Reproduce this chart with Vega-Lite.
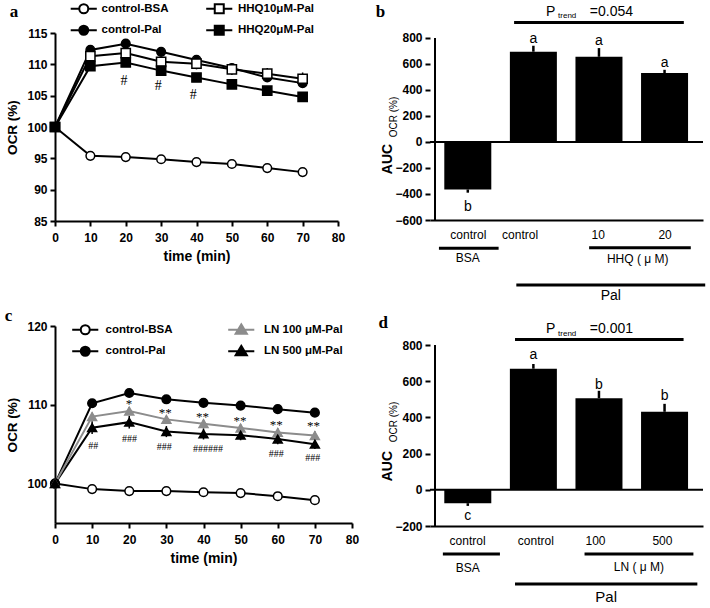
{
  "$schema": "https://vega.github.io/schema/vega-lite/v6.json",
  "background": "white",
  "autosize": {"type": "none"},
  "padding": {"left": 55, "top": 33, "right": 655, "bottom": 575},
  "bounds": "flush",
  "spacing": 293,
  "resolve": {"scale": {"color": "independent", "shape": "independent", "fill": "independent", "stroke": "independent"}},
  "datasets": {
    "a_line": [
      {"s": "control-BSA", "t": 0, "v": 100}, {"s": "control-BSA", "t": 10, "v": 95.4}, {"s": "control-BSA", "t": 20, "v": 95.2}, {"s": "control-BSA", "t": 30, "v": 94.85}, {"s": "control-BSA", "t": 40, "v": 94.4}, {"s": "control-BSA", "t": 50, "v": 94.1}, {"s": "control-BSA", "t": 60, "v": 93.45}, {"s": "control-BSA", "t": 70, "v": 92.8},
      {"s": "control-Pal", "t": 0, "v": 100}, {"s": "control-Pal", "t": 10, "v": 112.3}, {"s": "control-Pal", "t": 20, "v": 113.3}, {"s": "control-Pal", "t": 30, "v": 112.0}, {"s": "control-Pal", "t": 40, "v": 110.7}, {"s": "control-Pal", "t": 50, "v": 109.4}, {"s": "control-Pal", "t": 60, "v": 107.9}, {"s": "control-Pal", "t": 70, "v": 107.0},
      {"s": "HHQ10μM-Pal", "t": 0, "v": 100}, {"s": "HHQ10μM-Pal", "t": 10, "v": 111.3}, {"s": "HHQ10μM-Pal", "t": 20, "v": 111.8}, {"s": "HHQ10μM-Pal", "t": 30, "v": 110.4}, {"s": "HHQ10μM-Pal", "t": 40, "v": 110.1}, {"s": "HHQ10μM-Pal", "t": 50, "v": 109.2}, {"s": "HHQ10μM-Pal", "t": 60, "v": 108.5}, {"s": "HHQ10μM-Pal", "t": 70, "v": 107.7},
      {"s": "HHQ20μM-Pal", "t": 0, "v": 100}, {"s": "HHQ20μM-Pal", "t": 10, "v": 109.7}, {"s": "HHQ20μM-Pal", "t": 20, "v": 110.3}, {"s": "HHQ20μM-Pal", "t": 30, "v": 109.0}, {"s": "HHQ20μM-Pal", "t": 40, "v": 107.9}, {"s": "HHQ20μM-Pal", "t": 50, "v": 106.8}, {"s": "HHQ20μM-Pal", "t": 60, "v": 105.8}, {"s": "HHQ20μM-Pal", "t": 70, "v": 104.8}
    ],
    "a_err": [
      {"t": 40, "lo": 109.2, "hi": 110.9}, {"t": 50, "lo": 108.3, "hi": 110.1}, {"t": 60, "lo": 107.6, "hi": 109.4}, {"t": 70, "lo": 106.8, "hi": 108.7},
      {"t": 40, "lo": 110.0, "hi": 111.3}, {"t": 60, "lo": 107.2, "hi": 108.6}, {"t": 70, "lo": 106.3, "hi": 107.8}
    ],
    "a_ann": [
      {"t": 19.5, "v": 107.3, "txt": "#"}, {"t": 29.2, "v": 106.6, "txt": "#"}, {"t": 39.1, "v": 105.05, "txt": "#"}
    ],
    "c_line": [
      {"s": "control-BSA", "t": 0, "v": 100}, {"s": "control-BSA", "t": 10, "v": 99.3}, {"s": "control-BSA", "t": 20, "v": 99.05}, {"s": "control-BSA", "t": 30, "v": 99.05}, {"s": "control-BSA", "t": 40, "v": 98.9}, {"s": "control-BSA", "t": 50, "v": 98.8}, {"s": "control-BSA", "t": 60, "v": 98.4}, {"s": "control-BSA", "t": 70, "v": 97.9},
      {"s": "control-Pal", "t": 0, "v": 100}, {"s": "control-Pal", "t": 10, "v": 110.2}, {"s": "control-Pal", "t": 20, "v": 111.5}, {"s": "control-Pal", "t": 30, "v": 110.7}, {"s": "control-Pal", "t": 40, "v": 110.25}, {"s": "control-Pal", "t": 50, "v": 109.9}, {"s": "control-Pal", "t": 60, "v": 109.45}, {"s": "control-Pal", "t": 70, "v": 109.0},
      {"s": "LN 100 μM-Pal", "t": 0, "v": 100}, {"s": "LN 100 μM-Pal", "t": 10, "v": 108.5}, {"s": "LN 100 μM-Pal", "t": 20, "v": 109.2}, {"s": "LN 100 μM-Pal", "t": 30, "v": 108.15}, {"s": "LN 100 μM-Pal", "t": 40, "v": 107.6}, {"s": "LN 100 μM-Pal", "t": 50, "v": 107.05}, {"s": "LN 100 μM-Pal", "t": 60, "v": 106.5}, {"s": "LN 100 μM-Pal", "t": 70, "v": 106.1},
      {"s": "LN 500 μM-Pal", "t": 0, "v": 100}, {"s": "LN 500 μM-Pal", "t": 10, "v": 107.1}, {"s": "LN 500 μM-Pal", "t": 20, "v": 107.8}, {"s": "LN 500 μM-Pal", "t": 30, "v": 106.6}, {"s": "LN 500 μM-Pal", "t": 40, "v": 106.3}, {"s": "LN 500 μM-Pal", "t": 50, "v": 106.15}, {"s": "LN 500 μM-Pal", "t": 60, "v": 105.65}, {"s": "LN 500 μM-Pal", "t": 70, "v": 105.0}
    ],
    "c_err": [
      {"t": 10, "lo": 106.3, "hi": 107.9}, {"t": 20, "lo": 107.0, "hi": 108.6}, {"t": 30, "lo": 105.9, "hi": 107.3}, {"t": 40, "lo": 105.6, "hi": 107.0}, {"t": 50, "lo": 105.5, "hi": 106.8}, {"t": 60, "lo": 105.0, "hi": 106.3}, {"t": 70, "lo": 104.4, "hi": 105.6},
      {"t": 10, "lo": 108.0, "hi": 109.0}, {"t": 20, "lo": 108.7, "hi": 109.7}, {"t": 30, "lo": 107.7, "hi": 108.6}, {"t": 40, "lo": 107.1, "hi": 108.1}, {"t": 50, "lo": 106.6, "hi": 107.5}, {"t": 60, "lo": 106.0, "hi": 107.0}, {"t": 70, "lo": 105.6, "hi": 106.6}
    ],
    "c_star": [
      {"t": 19.9, "v": 110.04, "txt": "*"}, {"t": 29.7, "v": 109.0, "txt": "**"}, {"t": 39.7, "v": 108.5, "txt": "**"}, {"t": 49.8, "v": 108.0, "txt": "**"}, {"t": 59.6, "v": 107.5, "txt": "**"}, {"t": 69.6, "v": 107.25, "txt": "**"}
    ],
    "c_hash": [
      {"t": 10.3, "v": 104.77, "txt": "##"}, {"t": 20.1, "v": 105.7, "txt": "###"}, {"t": 29.4, "v": 104.64, "txt": "###"}, {"t": 41.2, "v": 104.35, "txt": "######"}, {"t": 59.6, "v": 103.7, "txt": "###"}, {"t": 69.4, "v": 103.25, "txt": "###"}
    ],
    "b_bars": [
      {"pos": 1, "v": -365, "e": -390}, {"pos": 2, "v": 694, "e": 740}, {"pos": 3, "v": 655, "e": 722}, {"pos": 4, "v": 530, "e": 555}
    ],
    "b_letters": [
      {"x": 2, "y": 790, "txt": "a"}, {"x": 3, "y": 780, "txt": "a"}, {"x": 4, "y": 605, "txt": "a"}, {"x": 1, "y": -497, "txt": "b"},
      {"x": 2.265, "y": 1002, "txt": "P"}, {"x": 3.19, "y": 1002, "txt": "=0.054"}
    ],
    "b_sub": [{"x": 2.515, "y": 969, "txt": "trend"}],
    "b_groups": [{"x": 1.0, "y": -895, "txt": "BSA"}, {"x": 3.59, "y": -902, "txt": "HHQ ( μ M)"}],
    "b_pal": [{"x": 3.18, "y": -1185, "txt": "Pal"}],
    "b_rules": [
      {"x": 1.706, "x2": 4.294, "y": 918}, {"x": 0.56, "x2": 1.47, "y": -818}, {"x": 2.85, "x2": 4.4, "y": -813}, {"x": 1.74, "x2": 4.62, "y": -1100}
    ],
    "d_bars": [
      {"pos": 1, "v": -74, "e": -89}, {"pos": 2, "v": 669, "e": 695}, {"pos": 3, "v": 506, "e": 547}, {"pos": 4, "v": 431, "e": 475}
    ],
    "d_letters": [
      {"x": 2, "y": 745, "txt": "a"}, {"x": 3, "y": 579, "txt": "b"}, {"x": 4, "y": 520, "txt": "b"}, {"x": 1, "y": -145, "txt": "c"},
      {"x": 2.265, "y": 887, "txt": "P"}, {"x": 3.19, "y": 887, "txt": "=0.001"}
    ],
    "d_sub": [{"x": 2.515, "y": 859, "txt": "trend"}],
    "d_groups": [{"x": 1.0, "y": -432, "txt": "BSA"}, {"x": 3.61, "y": -425, "txt": "LN ( μ M)"}],
    "d_pal": [{"x": 3.11, "y": -590, "txt": "Pal"}],
    "d_rules": [
      {"x": 1.72, "x2": 4.29, "y": 831}, {"x": 0.62, "x2": 1.49, "y": -355}, {"x": 2.78, "x2": 4.44, "y": -355}, {"x": 1.72, "x2": 4.5, "y": -520}
    ]
  },
  "vconcat": [
    {
      "bounds": "flush",
      "spacing": 92,
      "resolve": {"scale": {"color": "independent", "shape": "independent", "fill": "independent", "stroke": "independent"}},
      "hconcat": [
        {
          "width": 283,
          "height": 188,
          "layer": [
            {
              "data": {"name": "a_err"},
              "mark": {"type": "rule", "strokeWidth": 1.5, "color": "black"},
              "encoding": {
                "x": {"field": "t", "type": "quantitative", "scale": {"domain": [0, 80], "nice": false, "zero": false},
                  "axis": {"values": [0, 10, 20, 30, 40, 50, 60, 70, 80], "tickCount": 50, "format": "d", "title": "time (min)", "labelFlush": false, "labelOverlap": false, "labelPadding": 6, "titlePadding": 6, "titleFontSize": 14}},
                "y": {"field": "lo", "type": "quantitative", "scale": {"domain": [85, 115], "nice": false, "zero": false},
                  "axis": {"values": [85, 90, 95, 100, 105, 110, 115], "tickCount": 50, "format": "d", "title": "OCR (%)", "labelOverlap": false, "titleFontSize": 13.5, "labelPadding": 3, "titlePadding": 7}},
                "y2": {"field": "hi"}
              }
            },
            {
              "data": {"name": "a_line"},
              "mark": {"type": "line", "strokeWidth": 2, "color": "black"},
              "encoding": {
                "x": {"field": "t", "type": "quantitative"},
                "y": {"field": "v", "type": "quantitative"},
                "detail": {"field": "s", "type": "nominal"}
              }
            },
            {
              "data": {"name": "a_line"},
              "transform": [{"filter": "indexof(datum.s, 'control') == 0"}],
              "mark": {"type": "point", "shape": "circle", "filled": true, "size": 75, "strokeWidth": 1.5, "opacity": 1, "stroke": "black"},
              "encoding": {
                "x": {"field": "t", "type": "quantitative"},
                "y": {"field": "v", "type": "quantitative"},
                "fill": {"field": "s", "type": "nominal", "scale": {"domain": ["control-BSA", "control-Pal"], "range": ["white", "black"]},
                  "legend": {"title": null, "orient": "none", "legendX": 23, "legendY": -30, "padding": 0, "rowPadding": 3.5, "labelOffset": 12, "symbolSize": 81, "symbolStrokeWidth": 2, "symbolStrokeColor": "black", "symbolType": "M-2.9,0H-1M1,0H2.9M1,0A1,1,0,1,1,-1,0A1,1,0,1,1,1,0Z", "labelFontSize": 11.5, "labelFontWeight": "bold", "labelFont": "Liberation Sans", "labelColor": "black"}}
              }
            },
            {
              "data": {"name": "a_line"},
              "transform": [{"filter": "indexof(datum.s, 'HHQ') == 0"}],
              "mark": {"type": "point", "shape": "square", "filled": true, "size": 85, "strokeWidth": 1.5, "opacity": 1, "stroke": "black"},
              "encoding": {
                "x": {"field": "t", "type": "quantitative"},
                "y": {"field": "v", "type": "quantitative"},
                "color": {"field": "s", "type": "nominal", "scale": {"domain": ["HHQ10μM-Pal", "HHQ20μM-Pal"], "range": ["white", "black"]},
                  "legend": {"title": null, "orient": "none", "legendX": 158.5, "legendY": -30, "padding": 0, "rowPadding": 3.5, "labelOffset": 13, "symbolSize": 81, "symbolStrokeWidth": 2, "symbolStrokeColor": "black", "symbolType": "M-2.9,0H-1M1,0H2.9M-1,-1H1V1H-1Z", "labelFontSize": 11.5, "labelFontWeight": "bold", "labelFont": "Liberation Sans", "labelColor": "black"}}
              }
            },
            {
              "data": {"name": "a_ann"},
              "mark": {"type": "text", "font": "Liberation Serif", "fontSize": 14, "fill": "black", "baseline": "middle"},
              "encoding": {
                "x": {"field": "t", "type": "quantitative"},
                "y": {"field": "v", "type": "quantitative"},
                "text": {"field": "txt"}
              }
            },
            {
              "data": {"values": [{}]},
              "mark": {"type": "text", "font": "Liberation Serif", "fontSize": 17, "fontWeight": "bold", "fill": "black", "baseline": "middle"},
              "encoding": {"x": {"datum": -11.6}, "y": {"datum": 118.4}, "text": {"value": "a"}}
            }
          ]
        },
        {
          "width": 273,
          "height": 187,
          "layer": [
            {
              "data": {"name": "b_bars"},
              "mark": {"type": "bar", "width": 47, "color": "black"},
              "encoding": {
                "x": {"field": "pos", "type": "quantitative", "scale": {"domain": [0.5, 4.51], "nice": false, "zero": false},
                  "axis": {"values": [1, 1.79, 2.98, 4], "tickCount": 50, "labelExpr": "datum.value < 1.5 ? 'control' : datum.value < 2.5 ? 'control' : datum.value < 3.5 ? '10' : '20'", "ticks": false, "title": null, "labelFontWeight": "normal", "labelFontSize": 12, "labelPadding": 9, "labelFlush": false, "labelOverlap": false}},
                "y": {"field": "v", "type": "quantitative", "scale": {"domain": [-600, 838], "nice": false, "zero": false},
                  "axis": {"values": [-600, -400, -200, 0, 200, 400, 600, 800], "tickCount": 50, "format": "d", "domain": false, "title": null, "labelPadding": 3, "labelOverlap": false}}
              }
            },
            {
              "data": {"name": "b_bars"},
              "mark": {"type": "rule", "strokeWidth": 2.5, "color": "black"},
              "encoding": {"x": {"field": "pos", "type": "quantitative"}, "y": {"field": "v", "type": "quantitative"}, "y2": {"field": "e"}}
            },
            {
              "data": {"values": [{}]},
              "mark": {"type": "rule", "strokeWidth": 2, "color": "black"},
              "encoding": {"y": {"datum": 0}}
            },
            {
              "data": {"values": [{}]},
              "mark": {"type": "rule", "strokeWidth": 2, "color": "black"},
              "encoding": {"x": {"datum": 0.5}, "y": {"datum": -600}, "y2": {"datum": 800}}
            },
            {
              "data": {"name": "b_rules"},
              "mark": {"type": "rule", "strokeWidth": 3, "color": "black"},
              "encoding": {"x": {"field": "x", "type": "quantitative"}, "x2": {"field": "x2"}, "y": {"field": "y", "type": "quantitative"}}
            },
            {
              "data": {"name": "b_letters"},
              "mark": {"type": "text", "fontSize": 14, "font": "Liberation Sans", "fill": "black", "baseline": "middle"},
              "encoding": {"x": {"field": "x", "type": "quantitative"}, "y": {"field": "y", "type": "quantitative"}, "text": {"field": "txt"}}
            },
            {
              "data": {"name": "b_sub"},
              "mark": {"type": "text", "fontSize": 8, "font": "Liberation Sans", "fill": "black", "baseline": "middle"},
              "encoding": {"x": {"field": "x", "type": "quantitative"}, "y": {"field": "y", "type": "quantitative"}, "text": {"field": "txt"}}
            },
            {
              "data": {"name": "b_groups"},
              "mark": {"type": "text", "fontSize": 12, "font": "Liberation Sans", "fill": "black", "baseline": "middle"},
              "encoding": {"x": {"field": "x", "type": "quantitative"}, "y": {"field": "y", "type": "quantitative"}, "text": {"field": "txt"}}
            },
            {
              "data": {"name": "b_pal"},
              "mark": {"type": "text", "fontSize": 14, "font": "Liberation Sans", "fill": "black", "baseline": "middle"},
              "encoding": {"x": {"field": "x", "type": "quantitative"}, "y": {"field": "y", "type": "quantitative"}, "text": {"field": "txt"}}
            },
            {
              "data": {"values": [{}]},
              "mark": {"type": "text", "fontSize": 14, "fontWeight": "bold", "font": "Liberation Sans", "fill": "black", "baseline": "middle", "angle": 270},
              "encoding": {"x": {"datum": -0.22}, "y": {"datum": -131}, "text": {"value": "AUC"}}
            },
            {
              "data": {"values": [{}]},
              "mark": {"type": "text", "fontSize": 10, "font": "Liberation Sans", "fill": "black", "baseline": "middle", "angle": 270},
              "encoding": {"x": {"datum": -0.13}, "y": {"datum": 192}, "text": {"value": "OCR (%)"}}
            },
            {
              "data": {"values": [{}]},
              "mark": {"type": "text", "font": "Liberation Serif", "fontSize": 17, "fontWeight": "bold", "fill": "black", "baseline": "middle"},
              "encoding": {"x": {"datum": -0.33}, "y": {"datum": 1000}, "text": {"value": "b"}}
            }
          ]
        }
      ]
    },
    {
      "bounds": "flush",
      "spacing": 78,
      "resolve": {"scale": {"color": "independent", "shape": "independent", "fill": "independent", "stroke": "independent"}},
      "hconcat": [
        {
          "width": 297,
          "height": 197,
          "layer": [
            {
              "data": {"name": "c_err"},
              "mark": {"type": "rule", "strokeWidth": 1.5, "color": "black"},
              "encoding": {
                "x": {"field": "t", "type": "quantitative", "scale": {"domain": [0, 80], "nice": false, "zero": false},
                  "axis": {"values": [0, 10, 20, 30, 40, 50, 60, 70, 80], "tickCount": 50, "format": "d", "title": "time (min)", "labelFlush": false, "labelOverlap": false, "labelPadding": 6, "titlePadding": 6, "titleFontSize": 14}},
                "y": {"field": "lo", "type": "quantitative", "scale": {"domain": [95, 120], "nice": false, "zero": false},
                  "axis": {"values": [100, 110, 120], "tickCount": 50, "format": "d", "title": "OCR (%)", "labelOverlap": false, "titleFontSize": 13.5, "labelPadding": 3, "titlePadding": 7}},
                "y2": {"field": "hi"}
              }
            },
            {
              "data": {"name": "c_line"},
              "transform": [{"filter": "datum.s != 'LN 100 μM-Pal'"}],
              "mark": {"type": "line", "strokeWidth": 2, "color": "black"},
              "encoding": {
                "x": {"field": "t", "type": "quantitative"},
                "y": {"field": "v", "type": "quantitative"},
                "detail": {"field": "s", "type": "nominal"}
              }
            },
            {
              "data": {"name": "c_line"},
              "transform": [{"filter": "datum.s == 'LN 100 μM-Pal'"}],
              "mark": {"type": "line", "strokeWidth": 2, "color": "#8c8c8c"},
              "encoding": {
                "x": {"field": "t", "type": "quantitative"},
                "y": {"field": "v", "type": "quantitative"}
              }
            },
            {
              "data": {"name": "c_line"},
              "transform": [{"filter": "indexof(datum.s, 'control') == 0"}],
              "mark": {"type": "point", "shape": "circle", "filled": true, "size": 75, "strokeWidth": 1.5, "opacity": 1, "stroke": "black"},
              "encoding": {
                "x": {"field": "t", "type": "quantitative"},
                "y": {"field": "v", "type": "quantitative"},
                "fill": {"field": "s", "type": "nominal", "scale": {"domain": ["control-BSA", "control-Pal"], "range": ["white", "black"]},
                  "legend": {"title": null, "orient": "none", "legendX": 24.5, "legendY": -2, "padding": 0, "rowPadding": 3.5, "labelOffset": 14.5, "symbolSize": 81, "symbolStrokeWidth": 2, "symbolStrokeColor": "black", "symbolType": "M-2.9,0H-1M1,0H2.9M1,0A1,1,0,1,1,-1,0A1,1,0,1,1,1,0Z", "labelFontSize": 11.5, "labelFontWeight": "bold", "labelFont": "Liberation Sans", "labelColor": "black"}}
              }
            },
            {
              "data": {"name": "c_line"},
              "transform": [{"filter": "indexof(datum.s, 'LN') == 0"}],
              "mark": {"type": "point", "shape": "triangle-up", "filled": true, "size": 80, "strokeWidth": 1.5, "opacity": 1},
              "encoding": {
                "x": {"field": "t", "type": "quantitative"},
                "y": {"field": "v", "type": "quantitative"},
                "color": {"field": "s", "type": "nominal", "scale": {"domain": ["LN 100 μM-Pal", "LN 500 μM-Pal"], "range": ["#8c8c8c", "black"]},
                  "legend": {"title": null, "orient": "none", "legendX": 180.5, "legendY": -2, "padding": 0, "rowPadding": 3.5, "labelOffset": 17, "symbolSize": 81, "symbolStrokeWidth": 2, "symbolType": "M-2.9,0H2.9M0,-1.2L1.25,0.9H-1.25Z", "labelFontSize": 11.5, "labelFontWeight": "bold", "labelFont": "Liberation Sans", "labelColor": "black"}},
                "stroke": {"field": "s", "type": "nominal", "scale": {"domain": ["LN 100 μM-Pal", "LN 500 μM-Pal"], "range": ["#8c8c8c", "black"]},
                  "legend": {"title": null, "orient": "none", "legendX": 180.5, "legendY": -2, "padding": 0, "rowPadding": 3.5, "labelOffset": 17, "symbolSize": 81, "symbolStrokeWidth": 2, "symbolType": "M-2.9,0H2.9M0,-1.2L1.25,0.9H-1.25Z", "labelFontSize": 11.5, "labelFontWeight": "bold", "labelFont": "Liberation Sans", "labelColor": "black"}}
              }
            },
            {
              "data": {"name": "c_star"},
              "mark": {"type": "text", "font": "Liberation Serif", "fontSize": 13, "fill": "black", "baseline": "middle"},
              "encoding": {"x": {"field": "t", "type": "quantitative"}, "y": {"field": "v", "type": "quantitative"}, "text": {"field": "txt"}}
            },
            {
              "data": {"name": "c_hash"},
              "mark": {"type": "text", "font": "Liberation Serif", "fontSize": 10, "fill": "black", "baseline": "middle"},
              "encoding": {"x": {"field": "t", "type": "quantitative"}, "y": {"field": "v", "type": "quantitative"}, "text": {"field": "txt"}}
            },
            {
              "data": {"values": [{}]},
              "mark": {"type": "text", "font": "Liberation Serif", "fontSize": 17, "fontWeight": "bold", "fill": "black", "baseline": "middle"},
              "encoding": {"x": {"datum": -12.5}, "y": {"datum": 121.3}, "text": {"value": "c"}}
            }
          ]
        },
        {
          "width": 273,
          "height": 200,
          "layer": [
            {
              "data": {"name": "d_bars"},
              "mark": {"type": "bar", "width": 47, "color": "black"},
              "encoding": {
                "x": {"field": "pos", "type": "quantitative", "scale": {"domain": [0.5, 4.51], "nice": false, "zero": false},
                  "axis": {"values": [0.99, 2.03, 2.94, 3.96], "tickCount": 50, "labelExpr": "datum.value < 1.5 ? 'control' : datum.value < 2.5 ? 'control' : datum.value < 3.5 ? '100' : '500'", "ticks": false, "title": null, "labelFontWeight": "normal", "labelFontSize": 12, "labelPadding": 9, "labelFlush": false, "labelOverlap": false}},
                "y": {"field": "v", "type": "quantitative", "scale": {"domain": [-200, 905], "nice": false, "zero": false},
                  "axis": {"values": [-200, 0, 200, 400, 600, 800], "tickCount": 50, "format": "d", "domain": false, "title": null, "labelPadding": 3, "labelOverlap": false}}
              }
            },
            {
              "data": {"name": "d_bars"},
              "mark": {"type": "rule", "strokeWidth": 2.5, "color": "black"},
              "encoding": {"x": {"field": "pos", "type": "quantitative"}, "y": {"field": "v", "type": "quantitative"}, "y2": {"field": "e"}}
            },
            {
              "data": {"values": [{}]},
              "mark": {"type": "rule", "strokeWidth": 2, "color": "black"},
              "encoding": {"y": {"datum": 0}}
            },
            {
              "data": {"values": [{}]},
              "mark": {"type": "rule", "strokeWidth": 2, "color": "black"},
              "encoding": {"x": {"datum": 0.5}, "y": {"datum": -200}, "y2": {"datum": 800}}
            },
            {
              "data": {"name": "d_rules"},
              "mark": {"type": "rule", "strokeWidth": 3, "color": "black"},
              "encoding": {"x": {"field": "x", "type": "quantitative"}, "x2": {"field": "x2"}, "y": {"field": "y", "type": "quantitative"}}
            },
            {
              "data": {"name": "d_letters"},
              "mark": {"type": "text", "fontSize": 14, "font": "Liberation Sans", "fill": "black", "baseline": "middle"},
              "encoding": {"x": {"field": "x", "type": "quantitative"}, "y": {"field": "y", "type": "quantitative"}, "text": {"field": "txt"}}
            },
            {
              "data": {"name": "d_sub"},
              "mark": {"type": "text", "fontSize": 8, "font": "Liberation Sans", "fill": "black", "baseline": "middle"},
              "encoding": {"x": {"field": "x", "type": "quantitative"}, "y": {"field": "y", "type": "quantitative"}, "text": {"field": "txt"}}
            },
            {
              "data": {"name": "d_groups"},
              "mark": {"type": "text", "fontSize": 12, "font": "Liberation Sans", "fill": "black", "baseline": "middle"},
              "encoding": {"x": {"field": "x", "type": "quantitative"}, "y": {"field": "y", "type": "quantitative"}, "text": {"field": "txt"}}
            },
            {
              "data": {"name": "d_pal"},
              "mark": {"type": "text", "fontSize": 15, "font": "Liberation Sans", "fill": "black", "baseline": "middle"},
              "encoding": {"x": {"field": "x", "type": "quantitative"}, "y": {"field": "y", "type": "quantitative"}, "text": {"field": "txt"}}
            },
            {
              "data": {"values": [{}]},
              "mark": {"type": "text", "fontSize": 14, "fontWeight": "bold", "font": "Liberation Sans", "fill": "black", "baseline": "middle", "angle": 270},
              "encoding": {"x": {"datum": -0.22}, "y": {"datum": 131}, "text": {"value": "AUC"}}
            },
            {
              "data": {"values": [{}]},
              "mark": {"type": "text", "fontSize": 10, "font": "Liberation Sans", "fill": "black", "baseline": "middle", "angle": 270},
              "encoding": {"x": {"datum": -0.13}, "y": {"datum": 375}, "text": {"value": "OCR (%)"}}
            },
            {
              "data": {"values": [{}]},
              "mark": {"type": "text", "font": "Liberation Serif", "fontSize": 17, "fontWeight": "bold", "fill": "black", "baseline": "middle"},
              "encoding": {"x": {"datum": -0.29}, "y": {"datum": 921}, "text": {"value": "d"}}
            }
          ]
        }
      ]
    }
  ],
  "config": {
    "view": {"stroke": null},
    "font": "Liberation Sans",
    "axis": {"domainColor": "black", "domainWidth": 2, "tickColor": "black", "tickWidth": 2, "tickSize": 5, "labelColor": "black", "labelFont": "Liberation Sans", "labelFontWeight": "bold", "labelFontSize": 12, "titleColor": "black", "titleFont": "Liberation Sans", "titleFontWeight": "bold", "grid": false, "labelOverlap": false}
  }
}
